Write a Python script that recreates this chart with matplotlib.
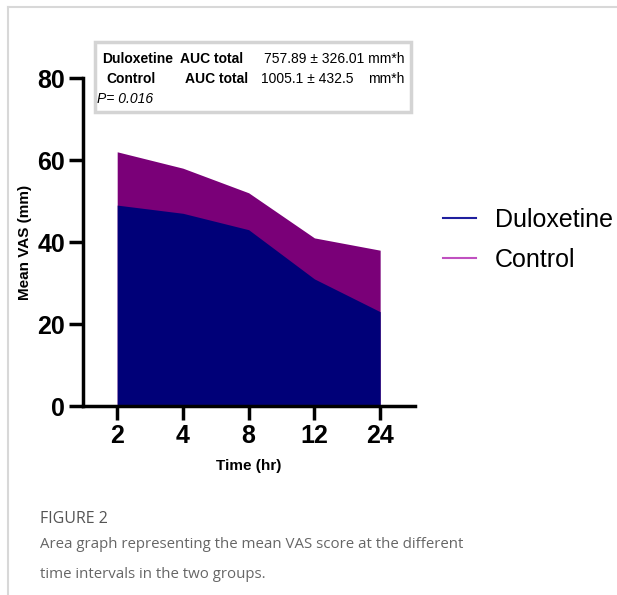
import matplotlib.pyplot as plt
from matplotlib.lines import Line2D
from matplotlib.patches import Rectangle

times = ["2", "4", "8", "12", "24"]
control = [62, 58, 52, 41, 38]
duloxetine = [49, 47, 43, 31, 23]

navy = "#000078"
purple = "#7a0078"

plt.rcParams['font.family'] = ['Liberation Sans', 'DejaVu Sans']

fig = plt.figure(figsize=(6.17, 5.95), dpi=100)
ax = fig.add_axes([83/617, 1-406/595, (415-83)/617, (406-78)/595])

x = list(range(len(times)))
ax.fill_between(x, 0, control, color=purple, lw=0)
ax.fill_between(x, 0, duloxetine, color=navy, lw=0)

ax.set_xlim(-0.52, 4.53)
ax.set_ylim(0, 80)
ax.set_xticks(x)
ax.set_xticklabels(times, fontsize=18, fontweight='bold')
ax.set_yticks([0, 20, 40, 60, 80])
ax.set_yticklabels(["0", "20", "40", "60", "80"], fontsize=18, fontweight='bold')
ax.tick_params(width=2.5, length=10, direction='out', pad=3)
for s in ['top', 'right']:
    ax.spines[s].set_visible(False)
for s in ['left', 'bottom']:
    ax.spines[s].set_linewidth(2.5)
ax.set_xlabel("Time (hr)", fontsize=11, fontweight='bold', labelpad=8)
ax.set_ylabel("Mean VAS (mm)", fontsize=11, fontweight='bold', labelpad=4)

handles = [Line2D([], [], color="#1f1f9e", lw=1.5),
           Line2D([], [], color="#c050c0", lw=1.5)]
fig.legend(handles, ["Duloxetine", "Control"], loc='center left',
           bbox_to_anchor=(443/617, 1-240/595), frameon=False, fontsize=18,
           borderpad=0, borderaxespad=0, handlelength=1.32,
           handletextpad=0.76, labelspacing=0.65)

# AUC box
fig.add_artist(Rectangle((95/617, 1-112/595), (411-95)/617, (112-42)/595,
                         transform=fig.transFigure, fill=False,
                         edgecolor="#d4d4d4", lw=2.5))
fs = 10
def t(px, py, s, **kw):
    fig.text(px/617, 1-py/595, s, fontsize=fs, va='center', **kw)
t(102, 59, "Duloxetine", fontweight='bold')
t(180, 59, "AUC total", fontweight='bold')
t(264, 59, "757.89 ± 326.01 mm*h")
t(106, 79, "Control", fontweight='bold')
t(185, 79, "AUC total", fontweight='bold')
t(261, 79, "1005.1 ± 432.5")
t(368, 79, "mm*h")
t(97, 99, "P= 0.016", fontstyle='italic')

# page frame lines
fig.add_artist(Line2D([8/617, 1], [1-7/595, 1-7/595], transform=fig.transFigure,
                      color="#d8d8d8", lw=1.5))
fig.add_artist(Line2D([8/617, 8/617], [0, 1-7/595], transform=fig.transFigure,
                      color="#d8d8d8", lw=1.5))

# caption
fig.text(40/617, 1-519/595, "FIGURE 2", fontsize=11.5, color="#555555",
         family='Open Sans', va='center')
fig.text(40/617, 1-545/595, "Area graph representing the mean VAS score at the different",
         fontsize=10.8, color="#666666", family='Open Sans', va='center')
fig.text(40/617, 1-574/595, "time intervals in the two groups.",
         fontsize=10.8, color="#666666", family='Open Sans', va='center')

fig.savefig("out.png", dpi=100)
